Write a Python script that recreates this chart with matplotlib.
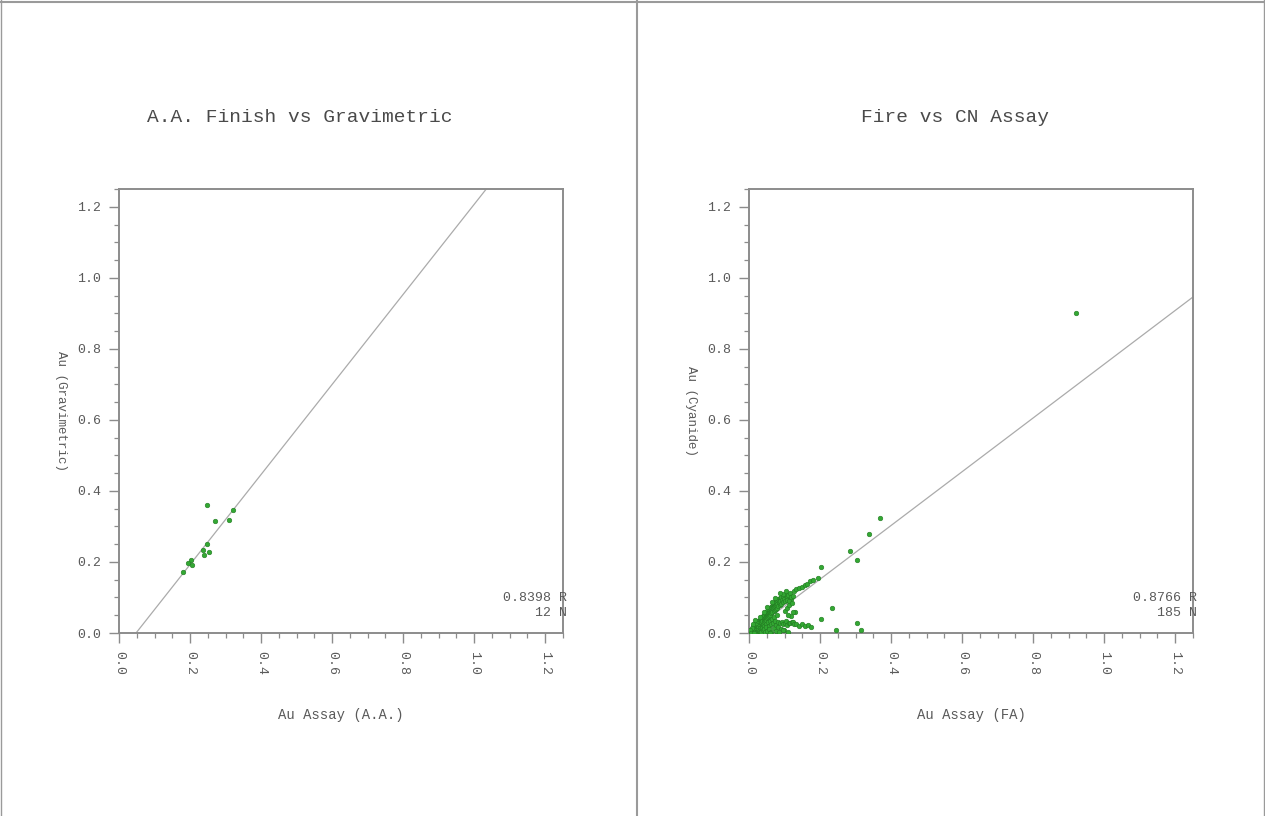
import matplotlib
matplotlib.use("Agg")
import matplotlib.pyplot as plt
from matplotlib.lines import Line2D
from matplotlib.ticker import MultipleLocator, FormatStrFormatter

FONT = ["Liberation Mono", "DejaVu Sans Mono"]
plt.rcParams['font.family'] = FONT

# ---------------- data ----------------
aa_x = [0.247, 0.320, 0.270, 0.311, 0.247, 0.236, 0.252, 0.238, 0.202, 0.195, 0.205, 0.181]
aa_y = [0.359, 0.346, 0.315, 0.318, 0.251, 0.234, 0.229, 0.220, 0.206, 0.198, 0.192, 0.173]
aa_fit_x = [0.048, 1.034]
aa_fit_y = [0.0, 1.25]
aa_stats = ["0.8398 R", "12 N"]

cn_fa = [
    0.002, 0.003, 0.004, 0.005, 0.006, 0.007, 0.008, 0.009, 0.010, 0.011,
    0.012, 0.013, 0.014, 0.015, 0.016, 0.017, 0.018, 0.019, 0.020, 0.021,
    0.022, 0.023, 0.024, 0.025, 0.026, 0.027, 0.028, 0.029, 0.030, 0.031,
    0.012, 0.016, 0.008, 0.020, 0.004, 0.025, 0.018, 0.030, 0.006, 0.014,
    0.032, 0.033, 0.034, 0.035, 0.036, 0.037, 0.038, 0.039, 0.040, 0.041,
    0.042, 0.043, 0.044, 0.045, 0.046, 0.047, 0.048, 0.049, 0.050, 0.051,
    0.052, 0.053, 0.054, 0.055, 0.056, 0.057, 0.058, 0.059, 0.060, 0.061,
    0.062, 0.063, 0.064, 0.065, 0.066, 0.067, 0.068, 0.069, 0.070, 0.071,
    0.072, 0.073, 0.074, 0.075, 0.076, 0.077, 0.078, 0.079, 0.080, 0.082,
    0.083, 0.084, 0.086, 0.087, 0.088, 0.090, 0.091, 0.093, 0.095, 0.097,
    0.099, 0.101, 0.103, 0.106, 0.108, 0.110,
    0.033, 0.035, 0.037, 0.039, 0.041, 0.043, 0.045, 0.047, 0.049, 0.051,
    0.053, 0.055, 0.057, 0.059, 0.061, 0.063, 0.065, 0.067, 0.069, 0.071,
    0.073, 0.075, 0.077, 0.079, 0.081, 0.083, 0.086, 0.089, 0.092, 0.095,
    0.098, 0.100, 0.104, 0.108, 0.112, 0.116, 0.120, 0.124, 0.128, 0.132,
    0.096, 0.104, 0.115, 0.119, 0.112, 0.118, 0.125, 0.128, 0.133, 0.141,
    0.148, 0.157, 0.163, 0.171, 0.180, 0.193, 0.202, 0.284, 0.304, 0.338,
    0.368, 0.922,
    0.100, 0.107, 0.113, 0.122, 0.129, 0.124, 0.117, 0.110,
    0.140, 0.150, 0.158, 0.166, 0.175, 0.202, 0.235, 0.246, 0.304, 0.314,
    0.096, 0.060, 0.085, 0.110,
    0.030, 0.042, 0.052, 0.064, 0.072, 0.088, 0.010, 0.018,
]
cn_cyanide = [
    0.001, 0.004, 0.002, 0.006, 0.003, 0.008, 0.005, 0.002, 0.011, 0.007,
    0.004, 0.014, 0.009, 0.002, 0.017, 0.012, 0.006, 0.020, 0.015, 0.003,
    0.024, 0.018, 0.010, 0.027, 0.021, 0.005, 0.031, 0.024, 0.014, 0.033,
    0.019, 0.024, 0.013, 0.028, 0.009, 0.034, 0.001, 0.002, 0.000, 0.000,
    0.036, 0.028, 0.040, 0.031, 0.019, 0.044, 0.035, 0.026, 0.047, 0.038,
    0.030, 0.051, 0.042, 0.034, 0.055, 0.046, 0.038, 0.058, 0.049, 0.041,
    0.062, 0.053, 0.045, 0.066, 0.056, 0.048, 0.069, 0.060, 0.052, 0.072,
    0.063, 0.055, 0.076, 0.066, 0.058, 0.079, 0.070, 0.061, 0.083, 0.073,
    0.064, 0.086, 0.076, 0.067, 0.089, 0.080, 0.071, 0.092, 0.083, 0.075,
    0.095, 0.087, 0.079, 0.098, 0.090, 0.082, 0.101, 0.093, 0.086, 0.104,
    0.097, 0.090, 0.106, 0.100, 0.093, 0.108,
    0.010, 0.004, 0.015, 0.008, 0.021, 0.012, 0.003, 0.025, 0.016, 0.007,
    0.030, 0.020, 0.011, 0.035, 0.024, 0.004, 0.040, 0.029, 0.013, 0.045,
    0.033, 0.022, 0.006, 0.050, 0.030, 0.018, 0.028, 0.010, 0.031, 0.025,
    0.008, 0.027, 0.033, 0.022, 0.029, 0.027, 0.031, 0.032, 0.026, 0.024,
    0.111, 0.118, 0.114, 0.095, 0.090, 0.102, 0.105, 0.119, 0.123, 0.126,
    0.130, 0.135, 0.138, 0.146, 0.150, 0.154, 0.185, 0.231, 0.206, 0.279,
    0.325, 0.900,
    0.062, 0.070, 0.078, 0.085, 0.060, 0.058, 0.048, 0.052,
    0.020, 0.024, 0.021, 0.023, 0.018, 0.039, 0.070, 0.008, 0.029, 0.008,
    0.008, 0.000, 0.003, 0.004,
    0.046, 0.060, 0.074, 0.088, 0.098, 0.112, 0.026, 0.036,
]
cn_fit_x = [0.0, 1.25]
cn_fit_y = [0.0, 0.946]
cn_stats = ["0.8766 R", "185 N"]

titles = ["A.A. Finish vs Gravimetric", "Fire vs CN Assay"]
xlabels = ["Au Assay (A.A.)", "Au Assay (FA)"]
ylabels = ["Au (Gravimetric)", "Au (Cyanide)"]

# ---------------- figure ----------------
W, H = 1265, 816
fig = plt.figure(figsize=(W / 100, H / 100), dpi=100)
fig.patch.set_facecolor("white")

frame_c = "#9a9a9a"
fig.add_artist(Line2D([637 / W, 637 / W], [0, 1], color=frame_c, lw=1.5))
fig.add_artist(Line2D([0, 1], [1 - 2 / H, 1 - 2 / H], color=frame_c, lw=1.5))
fig.add_artist(Line2D([1 / W, 1 / W], [0, 1], color=frame_c, lw=1.0))
fig.add_artist(Line2D([1 - 1 / W, 1 - 1 / W], [0, 1], color=frame_c, lw=1.0))

ax_w, ax_h = 444 / W, 444 / H
ax_b = (H - 633) / H
lefts = [119 / W, 749 / W]
title_x = [300 / W, 955 / W]

datasets = [
    (aa_x, aa_y, aa_fit_x, aa_fit_y, aa_stats),
    (cn_fa, cn_cyanide, cn_fit_x, cn_fit_y, cn_stats),
]

text_c = "#5a5a5a"
spine_c = "#8c8c8c"
pt_c = "#33a833"

for i, (xs, ys, fx, fy, stats) in enumerate(datasets):
    ax = fig.add_axes([lefts[i], ax_b, ax_w, ax_h])
    ax.set_xlim(0, 1.25)
    ax.set_ylim(0, 1.25)
    for s in ax.spines.values():
        s.set_color(spine_c)
        s.set_linewidth(1.4)
    ax.xaxis.set_major_locator(MultipleLocator(0.2))
    ax.yaxis.set_major_locator(MultipleLocator(0.2))
    ax.xaxis.set_minor_locator(MultipleLocator(0.05))
    ax.yaxis.set_minor_locator(MultipleLocator(0.05))
    ax.xaxis.set_major_formatter(FormatStrFormatter("%.1f"))
    ax.yaxis.set_major_formatter(FormatStrFormatter("%.1f"))
    ax.tick_params(which="major", direction="out", length=7, width=1.0,
                   color=spine_c, labelcolor=text_c, labelsize=9.5, pad=6)
    ax.tick_params(which="minor", direction="out", length=3.5, width=0.9,
                   color=spine_c)
    ax.tick_params(top=False, right=False, which="both")
    for lab in ax.get_xticklabels():
        lab.set_rotation(-90)
        lab.set_fontfamily(FONT)

    ax.plot(fx, fy, color="#ababab", lw=0.9, zorder=2)
    ax.scatter(xs, ys, s=11, color=pt_c, edgecolors="#227a22",
               linewidths=0.4, zorder=3)

    ax.text(1.008, 0.079, stats[0], transform=ax.transAxes, ha="right",
            va="center", fontsize=9.5, color=text_c, zorder=4)
    ax.text(1.008, 0.045, stats[1], transform=ax.transAxes, ha="right",
            va="center", fontsize=9.5, color=text_c, zorder=4)

    ax.set_xlabel(xlabels[i], fontsize=10, color=text_c)
    ax.xaxis.set_label_coords(0.5, -0.17)
    ax.set_ylabel(ylabels[i], fontsize=9, color=text_c, rotation=-90,
                  va="center")
    ax.yaxis.set_label_coords(-0.13, 0.5)

    fig.text(title_x[i], 1 - 117 / H, titles[i], ha="center", va="center",
             fontsize=14, color="#4a4a4a")

fig.savefig("out.png", dpi=100, facecolor="white")
